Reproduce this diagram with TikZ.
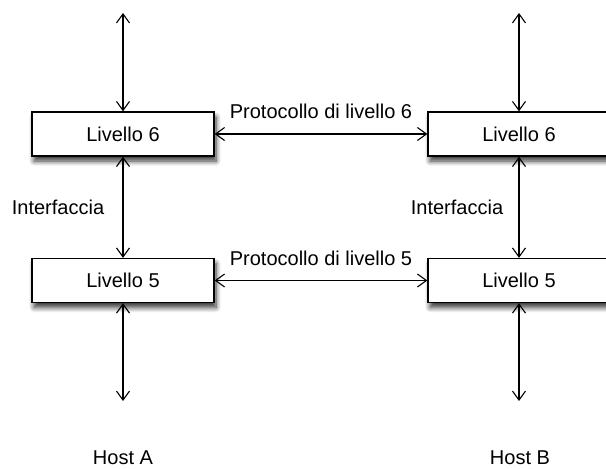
\documentclass[tikz,border=0pt]{standalone}
\usepackage{fontspec}
\setmainfont{Liberation Sans}
\usetikzlibrary{arrows.meta,shadows.blur}
\tikzset{
  layerbox/.style={draw, line width=1.3pt, fill=white, minimum width=182pt, minimum height=44pt, inner sep=0pt,
    blur shadow={shadow xshift=2pt, shadow yshift=-5pt, shadow blur steps=8, shadow blur radius=5pt, shadow opacity=80}},
  conn/.style={line width=1.1pt, {Straight Barb[length=9pt,width=13pt,line width=1.1pt]}-{Straight Barb[length=9pt,width=13pt,line width=1.1pt]}},
  lbl/.style={font=\fontsize{20pt}{24pt}\selectfont, inner sep=0pt}
}
\begin{document}
\begin{tikzpicture}[x=1pt,y=-1pt]
\useasboundingbox (0,0) rectangle (606,469);
\clip (0,0) rectangle (606,469);
\node[layerbox, lbl] (a6) at (123,134) {Livello 6};
\node[layerbox, lbl] (b6) at (519,134) {Livello 6};
\node[layerbox, lbl] (a5) at (123,280.5) {Livello 5};
\node[layerbox, lbl] (b5) at (519,280.5) {Livello 5};
\coordinate (at) at (123,13);
\coordinate (bt) at (519,13);
\coordinate (ab) at (123,401);
\coordinate (bb) at (519,401);
\draw[conn] (at) -- (a6.north);
\draw[conn] (bt) -- (b6.north);
\draw[conn] (a5.south) -- (ab);
\draw[conn] (b5.south) -- (bb);
\draw[conn] (a6.south) -- (a5.north);
\draw[conn] (b6.south) -- (b5.north);
\draw[conn] (a6.east) -- (b6.west);
\draw[conn] (a5.east) -- (b5.west);
\node[lbl] (p6) at (321,111) {Protocollo di livello 6};
\node[lbl] (p5) at (321,258) {Protocollo di livello 5};
\node[lbl] (ia) at (58,207) {Interfaccia};
\node[lbl] (ib) at (457,207) {Interfaccia};
\node[lbl] (ha) at (123,458) {Host A};
\node[lbl] (hb) at (520,458) {Host B};
\end{tikzpicture}
\end{document}
